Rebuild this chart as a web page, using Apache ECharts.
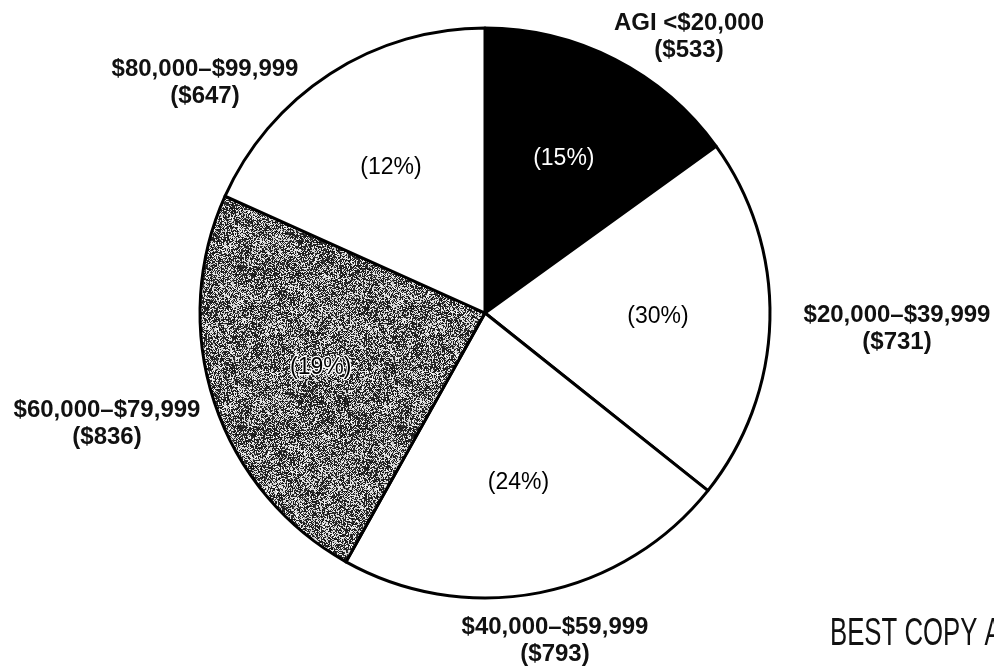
<!DOCTYPE html>
<html>
<head>
<meta charset="utf-8">
<script src="https://cdn.jsdelivr.net/npm/echarts@6/dist/echarts.min.js"></script>
<style>
html,body{margin:0;padding:0;background:#fff;}
#chart{width:994px;height:668px;}
</style>
</head>
<body>
<div id="chart"></div>
<script>
// ---- data ----
var categories = ['AGI <$20,000', '$20,000\u2013$39,999', '$40,000\u2013$59,999', '$60,000\u2013$79,999', '$80,000\u2013$99,999'];
var amounts = [533, 731, 793, 836, 647];
var amountLabels = ['($533)', '($731)', '($793)', '($836)', '($647)'];
var shareLabels = ['(15%)', '(30%)', '(24%)', '(19%)', '(12%)'];

// ---- style / layout ----
var center = [485, 313];
var R = 285;
// outer label anchor positions (layout only)
var outerLabelPos = [[689, 37], [897, 329], [555, 641], [107, 424], [205, 83]];

// deterministic speckle texture for the grey slice
function makeTexture() {
  var N = 160;
  var c = document.createElement('canvas');
  c.width = N; c.height = N;
  var ctx = c.getContext('2d');
  var img = ctx.createImageData(N, N);
  var s = 98765;
  function next() { s = (s * 1103515245 + 12345) & 0x7fffffff; return s / 0x7fffffff; }
  var G = 20, coarse = [];
  for (var k = 0; k < G * G; k++) coarse.push(next());
  function field(x, y) {
    var gx = x / N * G, gy = y / N * G;
    var x0 = Math.floor(gx) % G, y0 = Math.floor(gy) % G;
    var x1 = (x0 + 1) % G, y1 = (y0 + 1) % G;
    var fx = gx - Math.floor(gx), fy = gy - Math.floor(gy);
    var a = coarse[y0 * G + x0], b = coarse[y0 * G + x1], cc = coarse[y1 * G + x0], d = coarse[y1 * G + x1];
    return (a * (1 - fx) + b * fx) * (1 - fy) + (cc * (1 - fx) + d * fx) * fy;
  }
  for (var y = 0; y < N; y++) {
    for (var x = 0; x < N; x++) {
      var p = 0.38 + 0.36 * field(x, y);
      // checker-style dithering bias like a scanned halftone
      if ((x + y) % 2 === 0) p += 0.08; else p -= 0.08;
      var v = next() < p ? 15 + Math.floor(next() * 45) : 185 + Math.floor(next() * 70);
      var i = y * N + x;
      img.data[i * 4] = v; img.data[i * 4 + 1] = v; img.data[i * 4 + 2] = v; img.data[i * 4 + 3] = 255;
    }
  }
  ctx.putImageData(img, 0, 0);
  return c;
}
var texture = makeTexture();
var sliceFills = ['#000000', '#ffffff', '#ffffff', { image: texture, repeat: 'repeat' }, '#ffffff'];
var shareColors = ['#ffffff', '#000000', '#000000', '#000000', '#000000'];

var mainData = categories.map(function (n, i) {
  return { name: n, value: amounts[i], itemStyle: { color: sliceFills[i] } };
});
var labelData = categories.map(function (n, i) {
  return {
    name: n, value: amounts[i],
    label: i === 3 ? { color: shareColors[i], textBorderColor: '#ffffff', textBorderWidth: 2.5 } : { color: shareColors[i] }
  };
});

var chart = echarts.init(document.getElementById('chart'), null, { renderer: 'canvas' });
chart.setOption({
  backgroundColor: '#ffffff',
  animation: false,
  series: [
    {
      type: 'pie',
      center: center,
      radius: R,
      startAngle: 90,
      clockwise: true,
      silent: true,
      data: mainData,
      itemStyle: { borderColor: '#000', borderWidth: 3 },
      label: {
        show: true,
        position: 'outside',
        overflow: 'none',
        formatter: function (p) { return '{a|' + categories[p.dataIndex] + '}\n{a|' + amountLabels[p.dataIndex] + '}'; },
        rich: { a: { fontFamily: 'Liberation Sans, Arial, sans-serif', fontWeight: 'bold', fontSize: 24, lineHeight: 27, color: '#111', align: 'center' } }
      },
      labelLine: { show: false },
      labelLayout: function (p) {
        var pos = outerLabelPos[p.dataIndex];
        return { x: pos[0], y: pos[1], align: 'center', verticalAlign: 'middle' };
      }
    },
    {
      type: 'pie',
      center: center,
      radius: [55, R],
      startAngle: 90,
      clockwise: true,
      silent: true,
      data: labelData,
      itemStyle: { color: 'rgba(0,0,0,0)', borderWidth: 0 },
      label: {
        show: true,
        position: 'inside',
        fontFamily: 'Liberation Sans, Arial, sans-serif',
        fontSize: 23,
        formatter: function (p) { return shareLabels[p.dataIndex]; }
      },
      labelLine: { show: false }
    }
  ],
  graphic: [
    {
      type: 'text',
      left: 830,
      top: 615,
      scaleX: 0.66,
      style: { text: 'BEST COPY AV', fontFamily: 'Liberation Sans, Arial, sans-serif', fontSize: 39, fill: '#111' }
    }
  ]
});
</script>
</body>
</html>
